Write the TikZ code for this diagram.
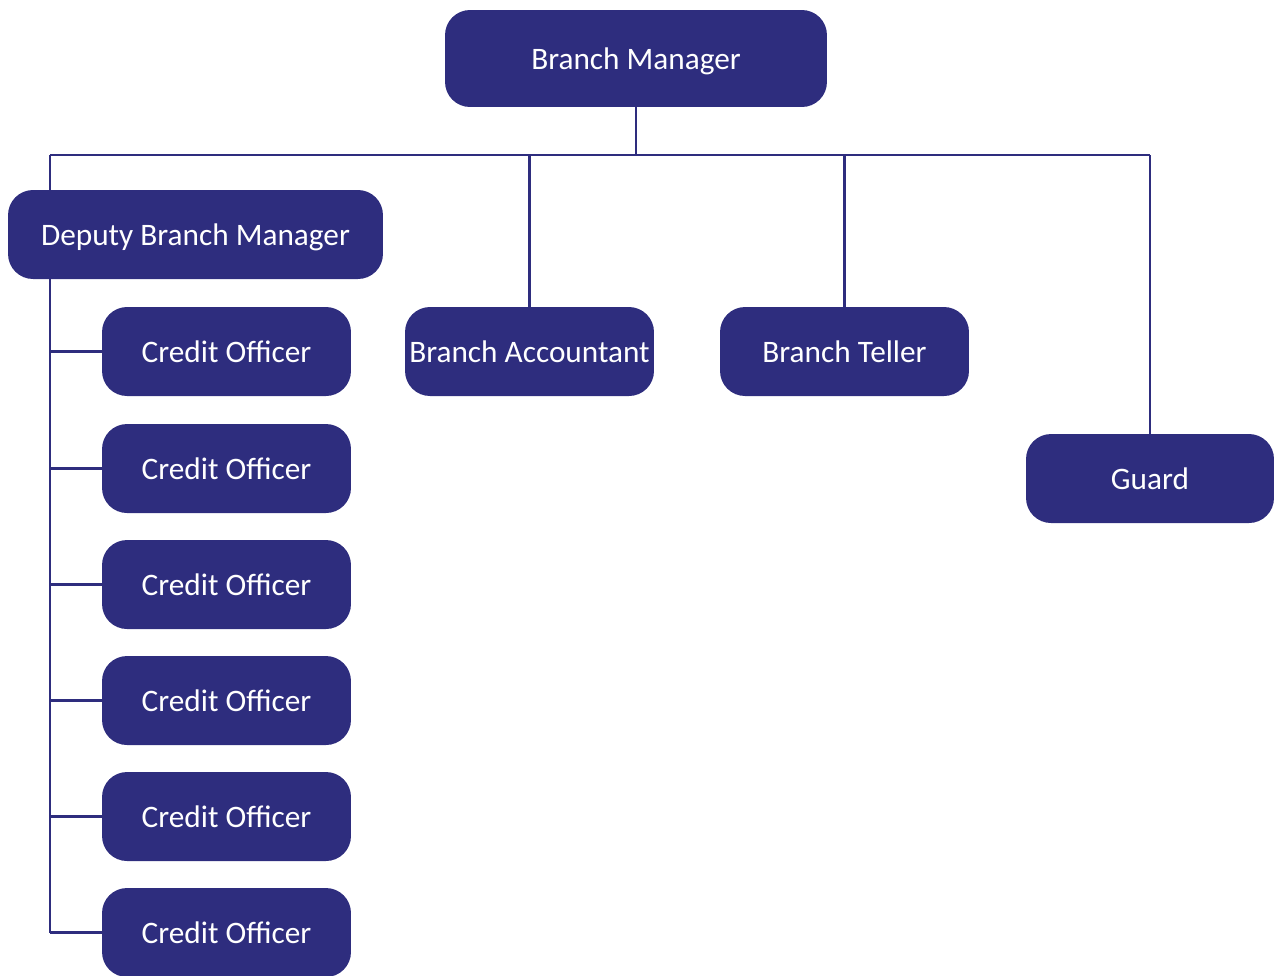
\documentclass[tikz,border=0pt]{standalone}
\usepackage{fontspec}
\setmainfont{Carlito}
\usetikzlibrary{positioning}
\definecolor{navy}{RGB}{46,45,126}

\begin{document}
\begin{tikzpicture}[x=0.02cm, y=-0.02cm,
    role/.style={rectangle, rounded corners=0.5cm, fill=navy, text=white, font=\fontsize{17.8}{20}\selectfont, minimum width=4.98cm, minimum height=1.78cm, inner sep=0pt, text height=12.5pt, text depth=0pt},
    link/.style={draw=navy, line width=1.4pt}]
        \useasboundingbox (0,0) rectangle (1274,975);
        % Boxes
        \node[role, minimum width=7.64cm, minimum height=1.94cm] (manager) at (636,58.5) {Branch Manager};
        \node[role, minimum width=7.5cm] (deputy) at (195.5,234.5) {Deputy Branch Manager};
        \node[role] (accountant) at (529.5,351.5) {Branch Accountant};
        \node[role] (teller) at (844.5,351.5) {Branch Teller};
        \node[role, minimum width=4.96cm] (guard) at (1150,478.5) {Guard};
        \foreach \i/\y in {1/351.5, 2/468.5, 3/584.5, 4/700.5, 5/816.5, 6/932.5}
            \node[role] (co\i) at (226.5,\y) {Credit Officer};
        % Lines from the manager
        \coordinate (bus) at (manager.south |- 0,155);
        \coordinate (busL) at (50,155);
        \coordinate (busR) at (guard.north |- bus);
        \draw[link] (manager.south) -- (bus);
        \draw[link] (busL) -- (busR);
        \draw[link] (busL) -- (busL |- deputy.north);
        \draw[link] (accountant.north) -- (accountant.north |- bus);
        \draw[link] (teller.north) -- (teller.north |- bus);
        \draw[link] (guard.north) -- (busR);
        % Lines from the deputy
        \coordinate (spine) at (busL |- deputy.south);
        \draw[link] (spine) -- (spine |- co6.west);
        \foreach \i in {1,...,6}
            \draw[link] (co\i.west) -- (co\i.west -| spine);
    \end{tikzpicture}
\end{document}
